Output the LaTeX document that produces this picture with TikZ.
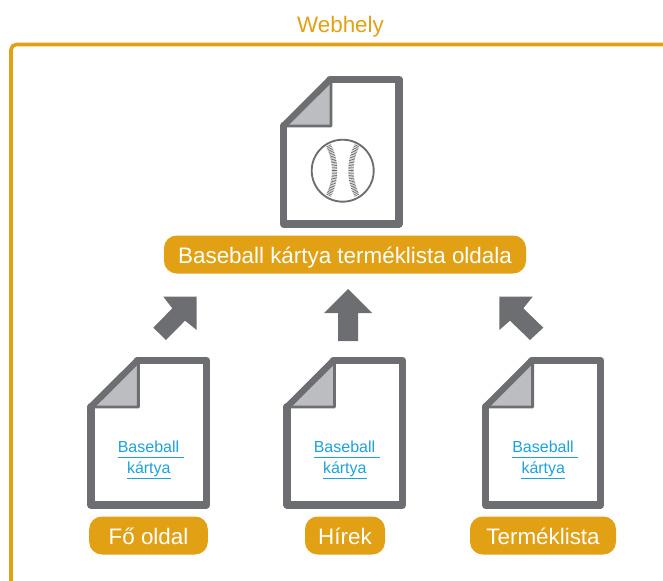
\documentclass[tikz,border=0pt]{standalone}
\usepackage{fontspec}
\setmainfont{Liberation Sans}
\definecolor{webor}{HTML}{E2A015}
\definecolor{docgray}{HTML}{6D6E71}
\definecolor{foldgray}{HTML}{BCBDC0}
\definecolor{linkblue}{HTML}{1CA3DC}
\tikzset{
  x=0.75pt,y=-0.75pt,
  pill/.style={fill=webor,text=white,rounded corners=9.5pt,minimum height=28.5pt,inner sep=0pt,text height=14pt,text depth=0.8pt,font=\fontsize{16.8}{20}\selectfont},
  linktext/.style={text=linkblue,anchor=base,inner sep=0pt,font=\fontsize{12}{14}\selectfont},
  linkrule/.style={draw=linkblue,line width=0.75pt},
  blockarrow/.style={fill=docgray,draw=none},
  ballline/.style={draw=docgray,line width=1.4pt},
  seam/.style={draw=docgray,line width=4pt,dash pattern=on 0.55pt off 0.65pt},
  docicon/.pic={
    \fill[white] (3.5,49) -- (50,3.5) -- (119,3.5) -- (119,148) -- (3.5,148) -- cycle;
    \filldraw[fill=foldgray,draw=docgray,line width=2.2pt,line join=round] (51,3.5) -- (51,50) -- (3.5,50) -- cycle;
    \draw[draw=docgray,line width=4.8pt,line join=round,line cap=round] (3.7,49.7) -- (50,3.5);
    \draw[draw=docgray,line width=5.6pt,line join=round,line cap=round] (3.7,49.7) -- (3.7,148) -- (119,148) -- (119,3.5) -- (50,3.5);
  }
}
\begin{document}
\begin{tikzpicture}
\useasboundingbox (0,0) rectangle (663,581);
\draw[webor,line width=2.7pt,rounded corners=4pt] (11,581) -- (11,44.5) -- (663,44.5);
\node[text=webor,font=\fontsize{16.8}{20}\selectfont] (title) at (340.5,26.5) {Webhely};

\pic at (280,76) {docicon};
\pic at (87.3,357) {docicon};
\pic at (283.5,357) {docicon};
\pic at (481.7,357) {docicon};

% baseball
\draw[ballline] (342.7,170.7) circle (31);
\draw[seam] (328.5,145.5) .. controls (336.5,160) and (336.5,181) .. (328.5,195.5);
\draw[seam] (357,145.5) .. controls (349,160) and (349,181) .. (357,195.5);

% labels
\node[pill,minimum width=271.5pt] (main) at (345,254.5) {Baseball kártya terméklista oldala};
\node[pill,minimum width=89pt] (fo) at (148.5,535.5) {Fő oldal};
\node[pill,minimum width=60pt] (hirek) at (345,535.5) {Hírek};
\node[pill,minimum width=109.5pt] (termek) at (543,535.5) {Terméklista};

% links
\node[linktext] (b1) at (148.5,452.3) {Baseball};
\node[linktext] (k1) at (148.8,473.3) {kártya};
\draw[linkrule] (118,457) -- (184,457);
\draw[linkrule] (127,478.5) -- (170.7,478.5);
\node[linktext] (b2) at (344.5,452.3) {Baseball};
\node[linktext] (k2) at (344.8,473.3) {kártya};
\draw[linkrule] (314,457) -- (380,457);
\draw[linkrule] (323,478.5) -- (366.7,478.5);
\node[linktext] (b3) at (543,452.3) {Baseball};
\node[linktext] (k3) at (543.3,473.3) {kártya};
\draw[linkrule] (512,457) -- (578,457);
\draw[linkrule] (521,478.5) -- (564.7,478.5);

% block arrows
\fill[blockarrow] (163.3,296.7) -- (196.7,296.7) -- (196.7,330) -- (185,320.7) -- (166,340) -- (153.3,327.7) -- (172.3,308.3) -- cycle;
\fill[blockarrow] (348,289) -- (372,313) -- (358,313) -- (358,341) -- (338,341) -- (338,313) -- (324,313) -- cycle;
\fill[blockarrow] (499.3,296.7) -- (532.7,296.7) -- (523.3,308.3) -- (543.3,327.7) -- (530,340) -- (510,320.7) -- (499.3,330) -- cycle;
\end{tikzpicture}
\end{document}
